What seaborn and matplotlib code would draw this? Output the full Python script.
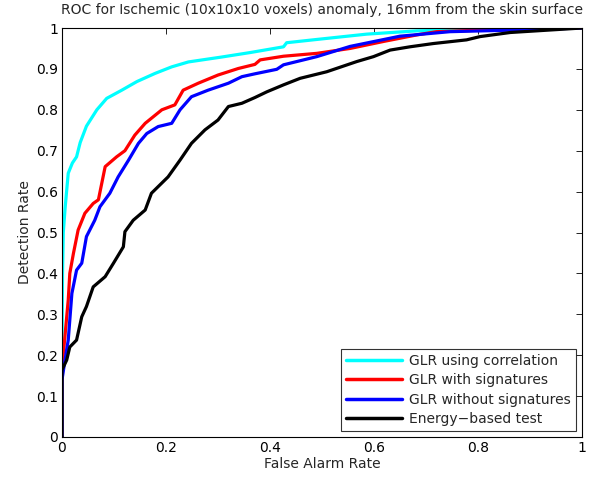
import numpy as np
import pandas as pd
import matplotlib
matplotlib.use("Agg")
import matplotlib.pyplot as plt
import seaborn as sns

# ---- data ----
cyan_x = [0, 0.0, 0.001, 0.0025, 0.006, 0.012, 0.02, 0.028, 0.035, 0.047, 0.067, 0.086, 0.115, 0.144,
          0.179, 0.211, 0.243, 0.307, 0.362, 0.426, 0.432, 0.49, 0.586, 0.682, 0.81, 1.0]
cyan_y = [0, 0.2, 0.4, 0.5, 0.56, 0.645, 0.67, 0.685, 0.72, 0.76, 0.80, 0.828, 0.848, 0.869,
          0.889, 0.905, 0.917, 0.929, 0.94, 0.954, 0.964, 0.972, 0.985, 0.993, 0.997, 1.0]

red_x = [0, 0.0, 0.005, 0.012, 0.015, 0.022, 0.031, 0.044, 0.06, 0.07, 0.083, 0.105, 0.121, 0.14,
         0.16, 0.192, 0.217, 0.233, 0.262, 0.30, 0.339, 0.371, 0.381, 0.426, 0.49, 0.554, 0.618,
         0.682, 0.72, 0.81, 1.0]
red_y = [0, 0.17, 0.237, 0.335, 0.40, 0.449, 0.506, 0.547, 0.571, 0.58, 0.661, 0.685, 0.70, 0.738,
         0.767, 0.80, 0.812, 0.848, 0.865, 0.885, 0.901, 0.911, 0.922, 0.931, 0.938, 0.95, 0.967,
         0.983, 0.991, 0.995, 1.0]

blue_x = [0, 0.0, 0.006, 0.012, 0.019, 0.028, 0.038, 0.047, 0.063, 0.073, 0.092, 0.108, 0.128,
          0.147, 0.163, 0.185, 0.211, 0.227, 0.249, 0.281, 0.32, 0.346, 0.371, 0.413, 0.426,
          0.49, 0.554, 0.65, 0.746, 0.87, 1.0]
blue_y = [0, 0.14, 0.19, 0.237, 0.351, 0.408, 0.425, 0.49, 0.53, 0.563, 0.596, 0.636, 0.677,
          0.718, 0.742, 0.759, 0.767, 0.80, 0.832, 0.848, 0.865, 0.881, 0.888, 0.899, 0.91,
          0.93, 0.955, 0.98, 0.991, 0.995, 1.0]

black_x = [0, 0.0, 0.0, 0.009, 0.015, 0.028, 0.038, 0.047, 0.06, 0.083, 0.099, 0.118, 0.121, 0.137,
           0.16, 0.172, 0.204, 0.227, 0.249, 0.275, 0.30, 0.32, 0.346, 0.371, 0.394, 0.426,
           0.458, 0.509, 0.567, 0.599, 0.631, 0.669, 0.714, 0.778, 0.804, 0.862, 1.0]
black_y = [0, 0.09, 0.164, 0.188, 0.22, 0.237, 0.294, 0.319, 0.367, 0.392, 0.425, 0.465, 0.502, 0.53,
           0.555, 0.596, 0.636, 0.677, 0.718, 0.751, 0.775, 0.808, 0.816, 0.83, 0.844, 0.861,
           0.877, 0.893, 0.918, 0.93, 0.946, 0.954, 0.962, 0.971, 0.979, 0.989, 1.0]

labels = ["GLR using correlation", "GLR with signatures", "GLR without signatures", "Energy\u2212based test"]
colors = ["#00FFFF", "#FF0000", "#0000FF", "#000000"]
xticks = [0, 0.2, 0.4, 0.6, 0.8, 1]
xticklabels = ["0", "0.2", "0.4", "0.6", "0.8", "1"]
yticks = [0, 0.1, 0.2, 0.3, 0.4, 0.5, 0.6, 0.7, 0.8, 0.9, 1]
yticklabels = ["0", "0.1", "0.2", "0.3", "0.4", "0.5", "0.6", "0.7", "0.8", "0.9", "1"]

frames = []
for lab, xs, ys in zip(labels, [cyan_x, red_x, blue_x, black_x], [cyan_y, red_y, blue_y, black_y]):
    frames.append(pd.DataFrame({"FAR": xs, "DR": ys, "method": lab}))
df = pd.concat(frames, ignore_index=True)

sns.set_style("white")
plt.rcParams["font.family"] = ["DejaVu Sans"]

fig = plt.figure(figsize=(5.89, 4.84), dpi=100)
ax = fig.add_axes([62 / 589, 1 - 437 / 484, 520 / 589, 409 / 484])

sns.lineplot(data=df, x="FAR", y="DR", hue="method", hue_order=labels, palette=colors,
             sort=False, estimator=None, units="method", linewidth=2.3, ax=ax)

ax.set_xlim(0, 1)
ax.set_ylim(0, 1)
ax.set_xticks(xticks)
ax.set_xticklabels(xticklabels)
ax.set_yticks(yticks)
ax.set_yticklabels(yticklabels)
ax.tick_params(direction="in", top=True, right=True, length=4, width=0.6,
               labelsize=10, colors="black", pad=3)
for s in ax.spines.values():
    s.set_visible(True)
    s.set_color("black")
    s.set_linewidth(0.8)

ax.set_xlabel("False Alarm Rate", fontsize=10, labelpad=1)
ax.set_ylabel("Detection Rate", fontsize=10, labelpad=3)
ax.set_title("ROC for Ischemic (10x10x10 voxels) anomaly, 16mm from the skin surface",
             fontsize=10, pad=10)

leg = ax.legend(loc="lower right", fontsize=10, frameon=True, fancybox=False,
                edgecolor="black", handlelength=4.0, borderaxespad=0.45,
                labelspacing=0.38, borderpad=0.35, handletextpad=0.55)
leg.get_frame().set_linewidth(0.8)
for line in leg.get_lines():
    line.set_linewidth(2.5)

fig.savefig("out.png", dpi=100, facecolor="white")
